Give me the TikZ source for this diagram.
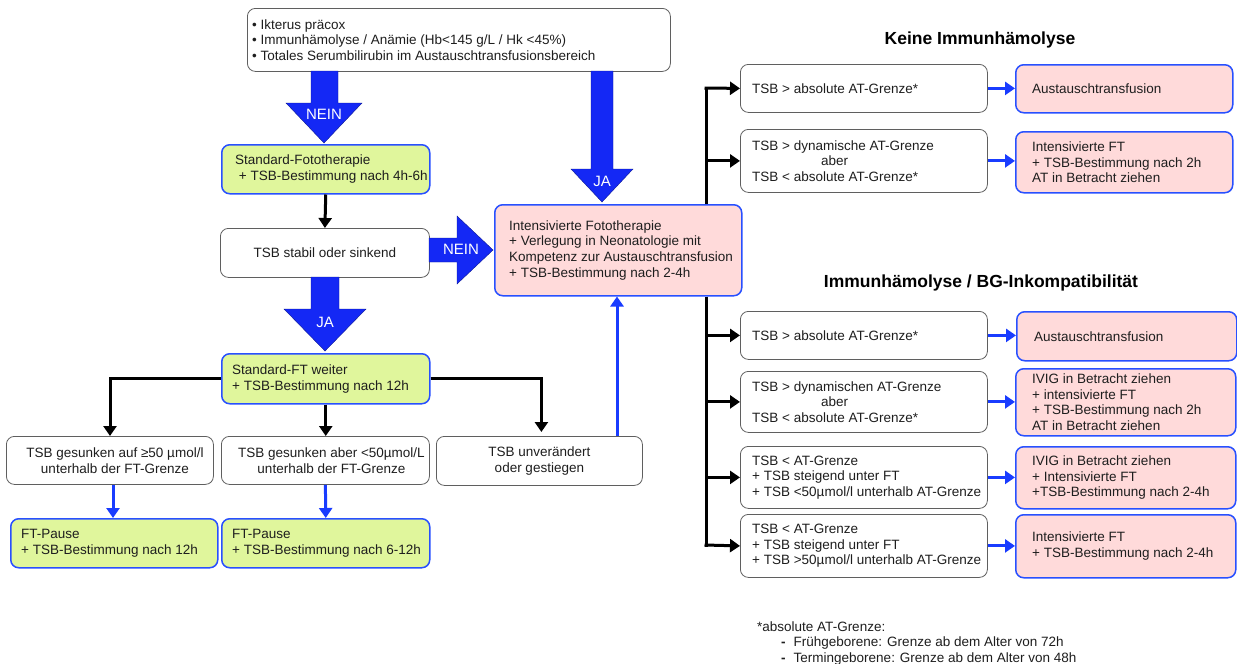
\documentclass[tikz,border=0pt]{standalone}
\usepackage{fontspec}
\setmainfont{Liberation Sans}
\usetikzlibrary{arrows.meta,calc}
\definecolor{bigblue}{RGB}{20,40,245}
\definecolor{bordblue}{RGB}{40,80,255}
\definecolor{thinblue}{RGB}{25,60,255}
\definecolor{greenfill}{RGB}{224,246,156}
\definecolor{pinkfill}{RGB}{255,218,218}
\definecolor{graybord}{RGB}{95,95,95}
\definecolor{txt}{RGB}{30,30,30}
\tikzset{
  base/.style={rectangle, rounded corners=8pt, inner sep=0pt},
  wbox/.style={base, draw=graybord, line width=0.8pt, fill=white},
  gbox/.style={base, draw=bordblue, line width=1.5pt, fill=greenfill},
  pbox/.style={base, draw=bordblue, line width=1.5pt, fill=pinkfill},
  txtn/.style={font=\fontsize{13.5}{15.7}\selectfont, text=txt, inner sep=0pt},
  blk/.style={line width=3pt, -{Triangle[length=10pt,width=13pt]}},
  blkline/.style={line width=3pt},
  bluarr/.style={line width=3pt, draw=thinblue, -{Triangle[length=10pt,width=13pt]}},
  bigarr/.style={fill=bigblue, draw=bigblue!60!black, line width=0.4pt},
  arrlab/.style={text=white, font=\fontsize{15}{17}\selectfont},
  head/.style={font=\bfseries\fontsize{17.5}{20}\selectfont, text=black}
}
% style, name, x, y, w, h, left pad, text
\newcommand\tbox[8]{%
  \node[#1, anchor=north west, minimum width=#5pt, minimum height=#6pt] (#2) at (#3,#4) {};
  \node[txtn, anchor=west, align=left] (#2t) at ($(#2.west)+(#7,0)$) {#8};}
% style, name, x, y, w, h, text centre x offset, text
\newcommand\cbox[8]{%
  \node[#1, anchor=north west, minimum width=#5pt, minimum height=#6pt] (#2) at (#3,#4) {};
  \node[txtn, align=center] (#2t) at ($(#2.center)+(#7,0)$) {#8};}
\begin{document}
\begin{tikzpicture}[x=1pt,y=-1pt]
\useasboundingbox (0,0) rectangle (1237,664);
\fill[white] (0,0) rectangle (1237,664);

% --- top box
\tbox{wbox}{top}{247}{8}{423}{63}{5}{\textbullet\ Ikterus präcox\\ \textbullet\ Immunhämolyse / Anämie (Hb<145 g/L / Hk <45\%)\\ \textbullet\ Totales Serumbilirubin im Austauschtransfusionsbereich}

% --- left column
\tbox{gbox}{std}{221}{144}{208}{49}{14}{Standard-Fototherapie\\ \ + TSB-Bestimmung nach 4h-6h}
\cbox{wbox}{stab}{220}{228}{209}{49}{0}{TSB stabil oder sinkend}
\tbox{pbox}{int}{494}{204}{247}{91}{15}{Intensivierte Fototherapie\\ + Verlegung in Neonatologie mit\\ Kompetenz zur Austauschtransfusion\\ + TSB-Bestimmung nach 2-4h}
\tbox{gbox}{ftw}{221}{353}{208}{50}{11}{Standard-FT weiter\\ + TSB-Bestimmung nach 12h}

\cbox{wbox}{g1}{6}{436}{207}{48}{5}{TSB gesunken auf ≥50 µmol/l\\ unterhalb der FT-Grenze}
\cbox{wbox}{g2}{221}{436}{208}{48}{6}{TSB gesunken aber <50µmol/L\\ unterhalb der FT-Grenze}
\cbox{wbox}{g3}{436}{436}{206}{49}{0}{TSB unverändert\\ oder gestiegen}

\tbox{gbox}{p1}{10}{518}{207}{49}{11}{FT-Pause\\ + TSB-Bestimmung nach 12h}
\tbox{gbox}{p2}{221}{518}{208}{49}{11}{FT-Pause\\ + TSB-Bestimmung nach 6-12h}

% --- big arrows
\fill[bigarr] (311,71) -- (338,71) -- (338,103) -- (362,103) -- (324,143) -- (286,103) -- (311,103) -- cycle;
\node[arrlab] (nein1) at (324,114) {NEIN};
\fill[bigarr] (591,71) -- (613,71) -- (613,169) -- (633,169) -- (602,202) -- (571,169) -- (591,169) -- cycle;
\node[arrlab] (ja1) at (602,181) {JA};
\fill[bigarr] (429,238) -- (457,238) -- (457,216) -- (493,250) -- (457,284) -- (457,262) -- (429,262) -- cycle;
\node[arrlab] (nein2) at (461,249) {NEIN};
\fill[bigarr] (311,277) -- (339,277) -- (339,309) -- (366,309) -- (325,351) -- (284,309) -- (311,309) -- cycle;
\node[arrlab] (ja2) at (325,322) {JA};

% --- black connectors left
\draw[blk] (std.south) -- (stab.north);
\draw[blk] (ftw.west) -| (g1.north -| 110,0);
\draw[blk] (ftw.south) -- (ftw.south |- g2.north);
\draw[blk] (ftw.east) -| ($(g3.north)+(2,-4)$);
\draw[bluarr] (g1.south -| 113,0) -- (p1.north -| 113,0);
\draw[bluarr] (g2.south) -- (p2.north);
\draw[bluarr] (g3.north -| 617,0) -- (int.south -| 617,0);

% --- right side headings
\node[head] (h1) at (980,40) {Keine Immunhämolyse};
\node[head] (h2) at (981,283) {Immunhämolyse / BG-Inkompatibilität};

% --- right: upper
\tbox{wbox}{c1}{740}{64}{247}{48}{12}{TSB > absolute AT-Grenze*}
\tbox{wbox}{c2}{740}{129}{247}{63}{12}{TSB > dynamische AT-Grenze\\ \hspace*{69pt}aber\\ TSB < absolute AT-Grenze*}
\tbox{pbox}{r1}{1015}{64}{217}{48}{17}{Austauschtransfusion}
\tbox{pbox}{r2}{1015}{131}{217}{61}{17}{Intensivierte FT\\ + TSB-Bestimmung nach 2h\\ AT in Betracht ziehen}

% --- right: lower
\tbox{wbox}{d1}{740}{311}{247}{48}{12}{TSB > absolute AT-Grenze*}
\tbox{wbox}{d2}{740}{371}{247}{61}{12}{TSB > dynamischen AT-Grenze\\ \hspace*{69pt}aber\\ TSB < absolute AT-Grenze*}
\tbox{wbox}{d3}{740}{446}{247}{62}{12}{TSB < AT-Grenze\\ + TSB steigend unter FT\\ + TSB <50µmol/l unterhalb AT-Grenze}
\tbox{wbox}{d4}{740}{514}{247}{63}{12}{TSB < AT-Grenze\\ + TSB steigend unter FT\\ + TSB >50µmol/l unterhalb AT-Grenze}
\tbox{pbox}{s1}{1016}{311}{220}{49}{18}{Austauschtransfusion}
\tbox{pbox}{s2}{1015}{368}{220}{67}{17}{IVIG in Betracht ziehen\\ + intensivierte FT\\ + TSB-Bestimmung nach 2h\\ AT in Betracht ziehen}
\tbox{pbox}{s3}{1015}{446}{220}{62}{17}{IVIG in Betracht ziehen\\ + Intensivierte FT\\ +TSB-Bestimmung nach 2-4h}
\tbox{pbox}{s4}{1015}{514}{220}{63}{17}{Intensivierte FT\\ + TSB-Bestimmung nach 2-4h}

% --- right trunks
\coordinate (t1) at (706,88);
\coordinate (t2) at (706,545);
\draw[blkline] (int.north -| t1) -- ($(t1)+(0,-1.5)$);
\draw[blk] ($(t1)+(-1.5,0)$) -- (c1.west);
\draw[blk] (c2.west -| t1) -- (c2.west);
\draw[blkline] (int.south -| t2) -- ($(t2)+(0,1.5)$);
\draw[blk] (d1.west -| t2) -- (d1.west);
\draw[blk] (d2.west -| t2) -- (d2.west);
\draw[blk] (d3.west -| t2) -- (d3.west);
\draw[blk] ($(t2)+(-1.5,0)$) -- (d4.west);

\draw[bluarr] (c1.east) -- (c1.east -| r1.west);
\draw[bluarr] (c2.east) -- (c2.east -| r2.west);
\draw[bluarr] (d1.east) -- (d1.east -| s1.west);
\draw[bluarr] (d2.east) -- (d2.east -| s2.west);
\draw[bluarr] (d3.east) -- (d3.east -| s3.west);
\draw[bluarr] (d4.east) -- (d4.east -| s4.west);

% --- footnote
\node[txtn, anchor=west] (fn) at (757,627) {*absolute AT-Grenze:};
\node[txtn, anchor=west] (fn1) at (781,643) {\textbf{-}\hspace{8pt}Frühgeborene: Grenze ab dem Alter von 72h};
\node[txtn, anchor=west] (fn2) at (781,659) {\textbf{-}\hspace{8pt}Termingeborene: Grenze ab dem Alter von 48h};
\end{tikzpicture}
\end{document}
